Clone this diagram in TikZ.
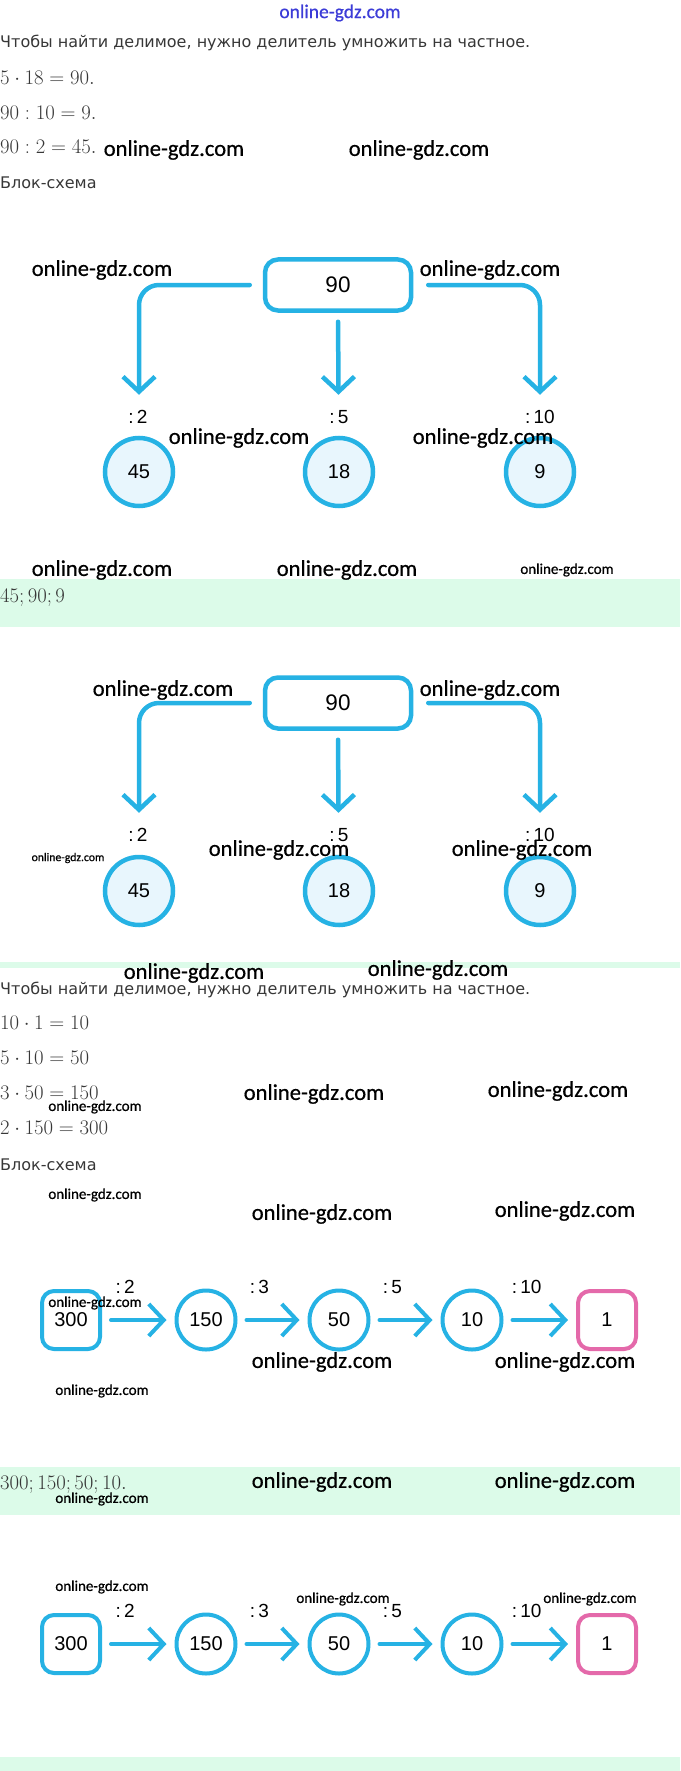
\documentclass[tikz,border=0pt]{standalone}
\usepackage{fontspec}
\usetikzlibrary{arrows.meta}
\newfontfamily\rufont{DejaVu Sans}
\newfontfamily\numfont{Liberation Sans}
\newfontfamily\wmfont[FakeBold=0.6]{Carlito}
\definecolor{cyanline}{RGB}{38,178,228}
\definecolor{pinkline}{RGB}{228,105,170}
\definecolor{lightblue}{RGB}{232,246,253}
\definecolor{bandgreen}{RGB}{220,251,233}
\definecolor{txtgray}{RGB}{55,55,55}
\definecolor{wmblue}{RGB}{60,60,215}
\tikzset{
  txt/.style={anchor=west, inner sep=0pt, text=txtgray, font=\rufont\fontsize{16}{18}\selectfont},
  eq/.style={anchor=west, inner sep=0pt, text=txtgray, font=\fontsize{21}{24}\selectfont},
  wm/.style={inner sep=0pt, font=\wmfont\fontsize{22.6}{24}\selectfont},
  wms/.style={inner sep=0pt, font=\wmfont\fontsize{15}{16}\selectfont},
  topbox/.style={draw=cyanline, line width=4.5pt, rounded corners=13pt, fill=white,
    minimum width=146pt, minimum height=51pt, font=\numfont\fontsize{22.5}{24}\selectfont},
  res/.style={circle, draw=cyanline, line width=4.5pt, fill=lightblue, minimum size=68pt,
    font=\numfont\fontsize{20}{22}\selectfont},
  div/.style={inner sep=0pt, font=\numfont\fontsize{19}{20}\selectfont},
  arr/.style={draw=cyanline, line width=4.5pt, line cap=round,
    -{Straight Barb[length=15pt,width=32pt]}},
  tarr/.style={arr, rounded corners=20pt, shorten <=13pt, shorten >=41pt},
  chbox/.style={draw=cyanline, line width=4pt, rounded corners=12pt, fill=white,
    minimum size=58pt, font=\numfont\fontsize{20}{22}\selectfont},
  chcirc/.style={circle, draw=cyanline, line width=4pt, fill=white, minimum size=59pt,
    font=\numfont\fontsize{20}{22}\selectfont},
  endbox/.style={chbox, draw=pinkline},
  carr/.style={arr, line width=4pt, shorten <=9pt, shorten >=8pt},
}
\begin{document}
\begin{tikzpicture}[x=1pt, y=-1pt]
\useasboundingbox (0,0) rectangle (680,1771);
% green bands
\fill[bandgreen] (0,579) rectangle (680,627);
\fill[bandgreen] (0,962) rectangle (680,968);
\fill[bandgreen] (0,1467) rectangle (680,1515);
\fill[bandgreen] (0,1757) rectangle (680,1771);

% first task
\node[inner sep=0pt, text=wmblue, font=\wmfont\fontsize{19.5}{20}\selectfont] (top) at (340,13) {online-gdz.com};
\node[txt] (rule1) at (0,43) {Чтобы найти делимое, нужно делитель умножить на частное.};
\node[eq] (e1) at (0,78) {$5\cdot 18=90.$};
\node[eq] (e2) at (0,113) {$90:10=9.$};
\node[eq] (e3) at (0,147) {$90:2=45.$};
\node[txt] (bs1) at (0,183) {Блок-схема};

% tree
\node[topbox] (a90) at (338,285) {90};
\node[res] (a45) at (139,472) {45};
\node[res] (a18) at (339,472) {18};
\node[res] (a9)  at (540,472) {9};
\node[div] (ad2)  at (138,417) {:\,2};
\node[div] (ad5)  at (339,417) {:\,5};
\node[div] (ad10) at (540,417) {:\,10};
\draw[tarr] (a90.west) -| (a45);
\draw[tarr, rounded corners=0pt, shorten <=9pt] (a90.south) -- (a18);
\draw[tarr, shorten <=15pt] (a90.east) -| (a9);

\node[eq] (ans1) at (0,598) {$45; 90; 9$};

% tree again
\node[topbox] (b90) at (338,703) {90};
\node[res] (b45) at (139,891) {45};
\node[res] (b18) at (339,891) {18};
\node[res] (b9)  at (540,891) {9};
\node[div] (bd2)  at (138,835) {:\,2};
\node[div] (bd5)  at (339,835) {:\,5};
\node[div] (bd10) at (540,835) {:\,10};
\draw[tarr, shorten >=42pt] (b90.west) -| (b45);
\draw[tarr, rounded corners=0pt, shorten <=9pt, shorten >=42pt] (b90.south) -- (b18);
\draw[tarr, shorten <=15pt, shorten >=42pt] (b90.east) -| (b9);

% second task
\node[txt] (rule2) at (0,990) {Чтобы найти делимое, нужно делитель умножить на частное.};
\node[eq] (f1) at (0,1023) {$10\cdot 1=10$};
\node[eq] (f2) at (0,1058) {$5\cdot 10=50$};
\node[eq] (f3) at (0,1093) {$3\cdot 50=150$};
\node[eq] (f4) at (0,1128) {$2\cdot 150=300$};
\node[txt] (bs2) at (0,1165) {Блок-схема};

% chain
\node[chbox] (p300) at (71,1320) {300};
\node[chcirc] (p150) at (206,1320) {150};
\node[chcirc] (p50) at (339,1320) {50};
\node[chcirc] (p10) at (472,1320) {10};
\node[endbox] (p1) at (607,1320) {1};
\draw[carr] (p300) -- node[div, xshift=-13pt, yshift=33pt] (pd2) {:\,2} (p150);
\draw[carr] (p150) -- node[div, xshift=-13pt, yshift=33pt] (pd3) {:\,3} (p50);
\draw[carr] (p50) -- node[div, xshift=-13pt, yshift=33pt] (pd5) {:\,5} (p10);
\draw[carr] (p10) -- node[div, xshift=-13pt, yshift=33pt] (pd10) {:\,10} (p1);

\node[eq] (ans2) at (0,1485) {$300; 150; 50; 10.$};

% chain again
\node[chbox] (q300) at (71,1644) {300};
\node[chcirc] (q150) at (206,1644) {150};
\node[chcirc] (q50) at (339,1644) {50};
\node[chcirc] (q10) at (472,1644) {10};
\node[endbox] (q1) at (607,1644) {1};
\draw[carr] (q300) -- node[div, xshift=-13pt, yshift=33pt] (qd2) {:\,2} (q150);
\draw[carr] (q150) -- node[div, xshift=-13pt, yshift=33pt] (qd3) {:\,3} (q50);
\draw[carr] (q50) -- node[div, xshift=-13pt, yshift=33pt] (qd5) {:\,5} (q10);
\draw[carr] (q10) -- node[div, xshift=-13pt, yshift=33pt] (qd10) {:\,10} (q1);

% watermarks
\node[wm] (w1) at (174,150) {online-gdz.com};
\node[wm] (w2) at (419,150) {online-gdz.com};
\node[wm] (w3) at (102,270) {online-gdz.com};
\node[wm] (w4) at (490,270) {online-gdz.com};
\node[wm] (w5) at (239,438) {online-gdz.com};
\node[wm] (w6) at (483,438) {online-gdz.com};
\node[wm] (w7) at (102,570) {online-gdz.com};
\node[wm] (w8) at (347,570) {online-gdz.com};
\node[wms] (w9) at (567,570) {online-gdz.com};
\node[wm] (w10) at (163,690) {online-gdz.com};
\node[wm] (w11) at (490,690) {online-gdz.com};
\node[wms, font=\wmfont\fontsize{11.7}{12}\selectfont] (w12) at (68,858) {online-gdz.com};
\node[wm] (w13) at (279,850) {online-gdz.com};
\node[wm] (w14) at (522,850) {online-gdz.com};
\node[wm] (w15) at (194,973) {online-gdz.com};
\node[wm] (w16) at (438,970) {online-gdz.com};
\node[wm] (w17) at (314,1094) {online-gdz.com};
\node[wm] (w18) at (558,1091) {online-gdz.com};
\node[wms] (w19) at (95,1107) {online-gdz.com};
\node[wms] (w20) at (95,1195) {online-gdz.com};
\node[wm] (w21) at (322,1214) {online-gdz.com};
\node[wm] (w22) at (565,1211) {online-gdz.com};
\node[wms] (w23) at (95,1303) {online-gdz.com};
\node[wm] (w24) at (322,1362) {online-gdz.com};
\node[wm] (w25) at (565,1362) {online-gdz.com};
\node[wms] (w26) at (102,1391) {online-gdz.com};
\node[wm] (w27) at (322,1482) {online-gdz.com};
\node[wm] (w28) at (565,1482) {online-gdz.com};
\node[wms] (w29) at (102,1499) {online-gdz.com};
\node[wms] (w30) at (102,1587) {online-gdz.com};
\node[wms] (w31) at (343,1599) {online-gdz.com};
\node[wms] (w32) at (590,1599) {online-gdz.com};
\end{tikzpicture}
\end{document}
